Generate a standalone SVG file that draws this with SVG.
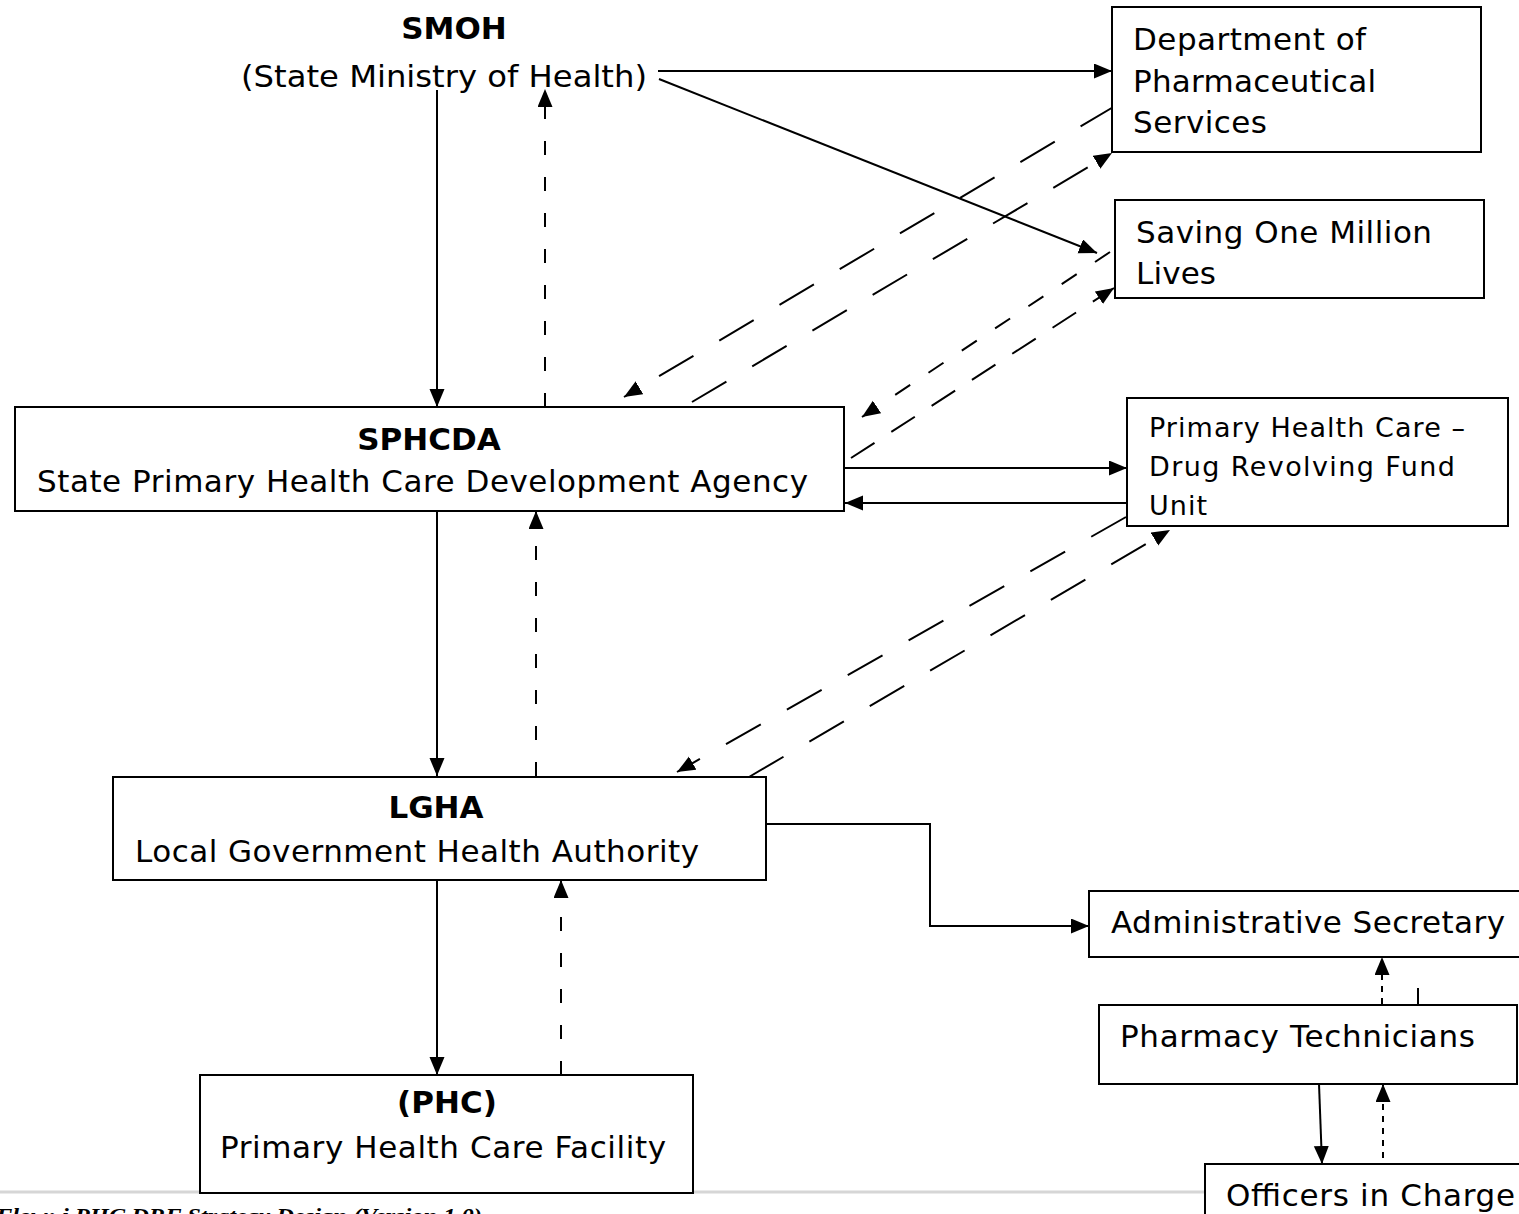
<svg xmlns="http://www.w3.org/2000/svg" width="1519" height="1214" viewBox="0 0 1519 1214">
<style>
.box{fill:#fff;stroke:#000;stroke-width:2}
.t{font-family:"DejaVu Sans","Liberation Sans",sans-serif;font-size:31px;fill:#000}
.s{font-size:27px}
.b{font-weight:bold}
.ln{fill:none;stroke:#000;stroke-width:2}
.d1{stroke-dasharray:14 22}
.d2{stroke-dasharray:40 30}
.d3{stroke-dasharray:18 22}
.d4{stroke-dasharray:28 20}
.dot{stroke-dasharray:6 6}
.foot{font-family:"Liberation Serif",serif;font-style:italic;font-weight:bold;font-size:21px;fill:#000}
</style>
<defs>
<marker id="ah" markerUnits="userSpaceOnUse" markerWidth="20" markerHeight="16" refX="18" refY="7.5" orient="auto">
<path d="M0,0 L18,7.5 L0,15 Z" fill="#000"/>
</marker>
</defs>
<rect width="1519" height="1214" fill="#fff"/>
<line x1="0" y1="1192" x2="1205" y2="1192" stroke="#d6d6d6" stroke-width="3"/>
<text class="foot" x="-4" y="1223" textLength="486" lengthAdjust="spacingAndGlyphs">Flow: i PHC DRF Strategy Design (Version 1.0)</text>

<g id="connectors">
<line class="ln" x1="437" y1="90" x2="437" y2="407" marker-end="url(#ah)"/>
<line class="ln d1" x1="545" y1="407" x2="545" y2="89" marker-end="url(#ah)"/>
<line class="ln" x1="658" y1="71" x2="1112" y2="71" marker-end="url(#ah)"/>
<line class="ln" x1="659" y1="79" x2="1097" y2="253" marker-end="url(#ah)"/>
<line class="ln d2" x1="1115" y1="106" x2="624" y2="397" marker-end="url(#ah)"/>
<line class="ln d2" x1="692" y1="402" x2="1112" y2="153" marker-end="url(#ah)"/>
<line class="ln d3" x1="1110" y1="252" x2="862" y2="417" marker-end="url(#ah)"/>
<line class="ln d4" x1="851" y1="458" x2="1114" y2="288" marker-end="url(#ah)"/>
<line class="ln" x1="844" y1="468" x2="1127" y2="468" marker-end="url(#ah)"/>
<line class="ln" x1="1127" y1="503" x2="845" y2="503" marker-end="url(#ah)"/>
<line class="ln" x1="437" y1="511" x2="437" y2="776" marker-end="url(#ah)"/>
<line class="ln d1" x1="536" y1="776" x2="536" y2="511" marker-end="url(#ah)"/>
<line class="ln d2" x1="1126" y1="517" x2="677" y2="772" marker-end="url(#ah)"/>
<line class="ln d2" x1="749" y1="777" x2="1170" y2="530" marker-end="url(#ah)"/>
<polyline class="ln" points="766,824 930,824 930,926 1089,926" marker-end="url(#ah)"/>
<line class="ln" x1="437" y1="880" x2="437" y2="1075" marker-end="url(#ah)"/>
<line class="ln d1" x1="561" y1="1075" x2="561" y2="880" marker-end="url(#ah)"/>
<line class="ln dot" x1="1382" y1="1004" x2="1382" y2="957" marker-end="url(#ah)"/>
<line class="ln" x1="1418" y1="988" x2="1418" y2="1005"/>
<line class="ln" x1="1319" y1="1084" x2="1322" y2="1164" marker-end="url(#ah)"/>
<line class="ln dot" x1="1383" y1="1158" x2="1383" y2="1084" marker-end="url(#ah)"/>
</g>

<g id="smoh">
<text class="t b" x="454" y="39" text-anchor="middle">SMOH</text>
<text class="t" x="241" y="87" textLength="406" lengthAdjust="spacingAndGlyphs">(State Ministry of Health)</text>
</g>
<g id="dps">
<rect class="box" x="1112" y="7" width="369" height="145"/>
<text class="t" x="1133" y="50" textLength="233">Department of</text>
<text class="t" x="1133" y="92" textLength="243">Pharmaceutical</text>
<text class="t" x="1133" y="133" textLength="134">Services</text>
</g>
<g id="somlv">
<rect class="box" x="1115" y="200" width="369" height="98"/>
<text class="t" x="1136" y="243" textLength="296">Saving One Million</text>
<text class="t" x="1136" y="284" textLength="80">Lives</text>
</g>
<g id="drf">
<rect class="box" x="1127" y="398" width="381" height="128"/>
<text class="t s" x="1149" y="437" textLength="316">Primary Health Care –</text>
<text class="t s" x="1149" y="476" textLength="306">Drug Revolving Fund</text>
<text class="t s" x="1149" y="515" textLength="58">Unit</text>
</g>
<g id="sphcda">
<rect class="box" x="15" y="407" width="829" height="104"/>
<text class="t b" x="429" y="450" text-anchor="middle">SPHCDA</text>
<text class="t" x="37" y="492" textLength="771">State Primary Health Care Development Agency</text>
</g>
<g id="lgha">
<rect class="box" x="113" y="777" width="653" height="103"/>
<text class="t b" x="436" y="818" text-anchor="middle">LGHA</text>
<text class="t" x="135" y="862" textLength="564">Local Government Health Authority</text>
</g>
<g id="phc">
<rect class="box" x="200" y="1075" width="493" height="118"/>
<text class="t b" x="447" y="1113" text-anchor="middle">(PHC)</text>
<text class="t" x="220" y="1158" textLength="446">Primary Health Care Facility</text>
</g>
<g id="admin">
<rect class="box" x="1089" y="891" width="440" height="66"/>
<text class="t" x="1111" y="933" textLength="394">Administrative Secretary</text>
</g>
<g id="pharmtech">
<rect class="box" x="1099" y="1005" width="418" height="79"/>
<text class="t" x="1120" y="1047" textLength="355">Pharmacy Technicians</text>
</g>
<g id="oic">
<rect class="box" x="1205" y="1164" width="330" height="80"/>
<text class="t" x="1226" y="1206" textLength="289">Officers in Charge</text>
</g>
</svg>
